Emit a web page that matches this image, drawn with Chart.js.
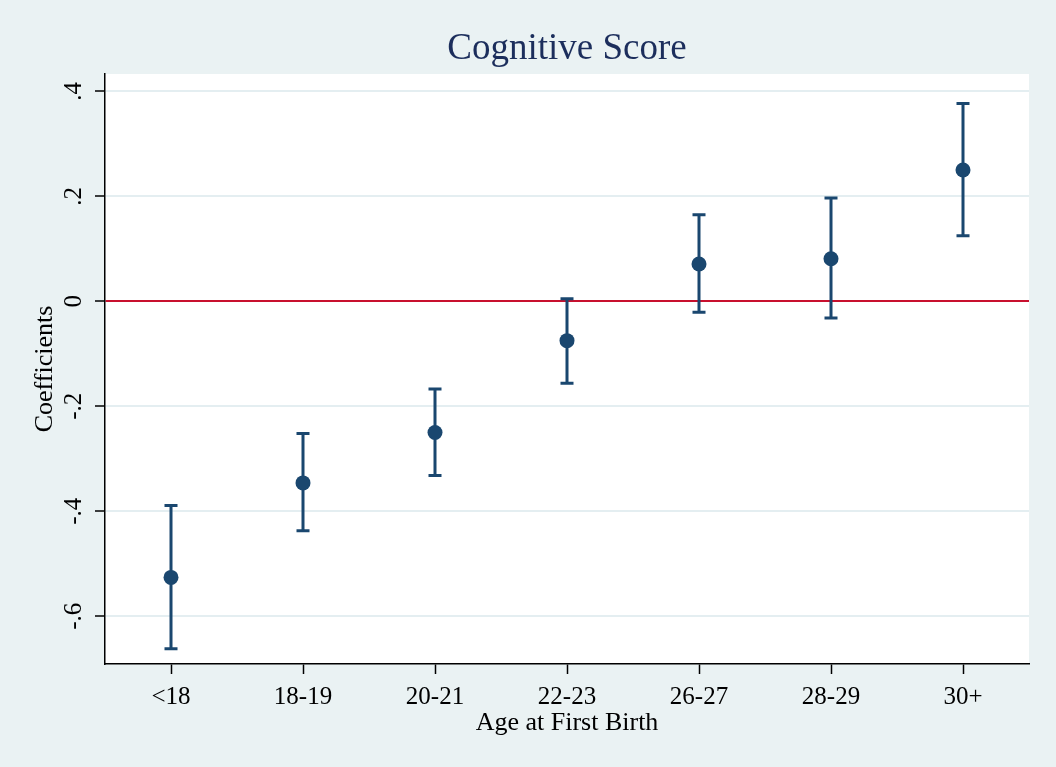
<!DOCTYPE html>
<html>
<head>
<meta charset="utf-8">
<script src="https://cdn.jsdelivr.net/npm/chart.js@4.4.1/dist/chart.umd.min.js"></script>
<style>
  html, body { margin: 0; padding: 0; background: #EAF2F3; }
  canvas { display: block; }
</style>
</head>
<body>
<canvas id="coefchart" width="1056" height="767"></canvas>
<script>
const categories = ['<18', '18-19', '20-21', '22-23', '26-27', '28-29', '30+'];
const coef = [-0.526, -0.346, -0.250, -0.075, 0.071, 0.081, 0.250];
const ciLow = [-0.662, -0.437, -0.332, -0.156, -0.021, -0.032, 0.125];
const ciHigh = [-0.389, -0.252, -0.167, 0.005, 0.165, 0.197, 0.377];
const yTicks = [-0.6, -0.4, -0.2, 0, 0.2, 0.4];
const yTickLabels = ['-.6', '-.4', '-.2', '0', '.2', '.4'];

const serif = "'Liberation Serif', 'Times New Roman', serif";
const navy = '#1A476F';

// white plot region
const plotBg = {
    id: 'plotBg',
    beforeDraw(chart) {
        const a = chart.chartArea;
        const c = chart.ctx;
        c.save();
        c.fillStyle = '#ffffff';
        c.fillRect(a.left, a.top, a.right - a.left, a.bottom - a.top);
        c.restore();
    }
};

// confidence interval bars with caps
const errorBars = {
    id: 'errorBars',
    beforeDatasetsDraw(chart) {
        const c = chart.ctx;
        const x = chart.scales.x, y = chart.scales.y;
        c.save();
        c.strokeStyle = navy;
        c.lineWidth = 3;
        categories.forEach((cat, i) => {
            const px = x.getPixelForValue(i);
            const top = y.getPixelForValue(ciHigh[i]);
            const bot = y.getPixelForValue(ciLow[i]);
            c.beginPath();
            c.moveTo(px, top); c.lineTo(px, bot);
            c.moveTo(px - 6.5, top); c.lineTo(px + 6.5, top);
            c.moveTo(px - 6.5, bot); c.lineTo(px + 6.5, bot);
            c.stroke();
        });
        c.restore();
    }
};

const ctx = document.getElementById('coefchart').getContext('2d');

const chart = new Chart(ctx, {
    type: 'line',
    data: {
        labels: categories,
        datasets: [{
            label: 'Coefficients',
            data: coef,
            showLine: false,
            pointRadius: 7.5,
            pointBackgroundColor: navy,
            pointBorderColor: navy,
            pointBorderWidth: 0
        }]
    },
    plugins: [plotBg, errorBars],
    options: {
        responsive: false,
        animation: false,
        events: [],
        layout: { padding: { left: 30, right: 27, top: 0, bottom: 28 } },
        plugins: {
            legend: { display: false },
            tooltip: { enabled: false },
            title: {
                display: true,
                text: 'Cognitive Score',
                fullSize: false,
                color: '#1C2E5C',
                font: { family: serif, size: 37, weight: 'normal', lineHeight: 1.2 },
                padding: { top: 27, bottom: 2.6 }
            }
        },
        scales: {
            x: {
                type: 'category',
                offset: true,
                grid: {
                    offset: false,
                    drawOnChartArea: false,
                    drawTicks: true,
                    tickLength: 10,
                    tickColor: '#000',
                    tickWidth: 1.5
                },
                border: { color: '#000', width: 1.5 },
                ticks: {
                    color: '#000',
                    padding: 8,
                    maxRotation: 0,
                    font: { family: serif, size: 25 }
                },
                title: {
                    display: true,
                    text: 'Age at First Birth',
                    color: '#000',
                    font: { family: serif, size: 26, lineHeight: 1.2 },
                    padding: { top: 0, bottom: 0 }
                },
                afterFit(scale) { scale.height = 75; }
            },
            y: {
                min: -0.691,
                max: 0.433,
                afterBuildTicks(scale) {
                    scale.ticks = yTicks.map(v => ({ value: v }));
                },
                grid: {
                    color: (c) => c.tick && c.tick.value === 0 ? '#C8102E' : '#E4EEF1',
                    lineWidth: 2,
                    drawTicks: true,
                    tickLength: 10,
                    tickColor: '#000',
                    tickWidth: 1.5
                },
                border: { color: '#000', width: 1.5 },
                ticks: {
                    color: '#000',
                    padding: 7.5,
                    minRotation: 90,
                    maxRotation: 90,
                    crossAlign: 'center',
                    font: { family: serif, size: 25 },
                    callback: (v) => yTickLabels[yTicks.indexOf(v)]
                },
                title: {
                    display: true,
                    text: 'Coefficients',
                    color: '#000',
                    font: { family: serif, size: 26, lineHeight: 1.2 },
                    padding: { top: 0, bottom: 0 }
                },
                afterFit(scale) { scale.width = 75; }
            }
        }
    }
});
</script>
</body>
</html>
